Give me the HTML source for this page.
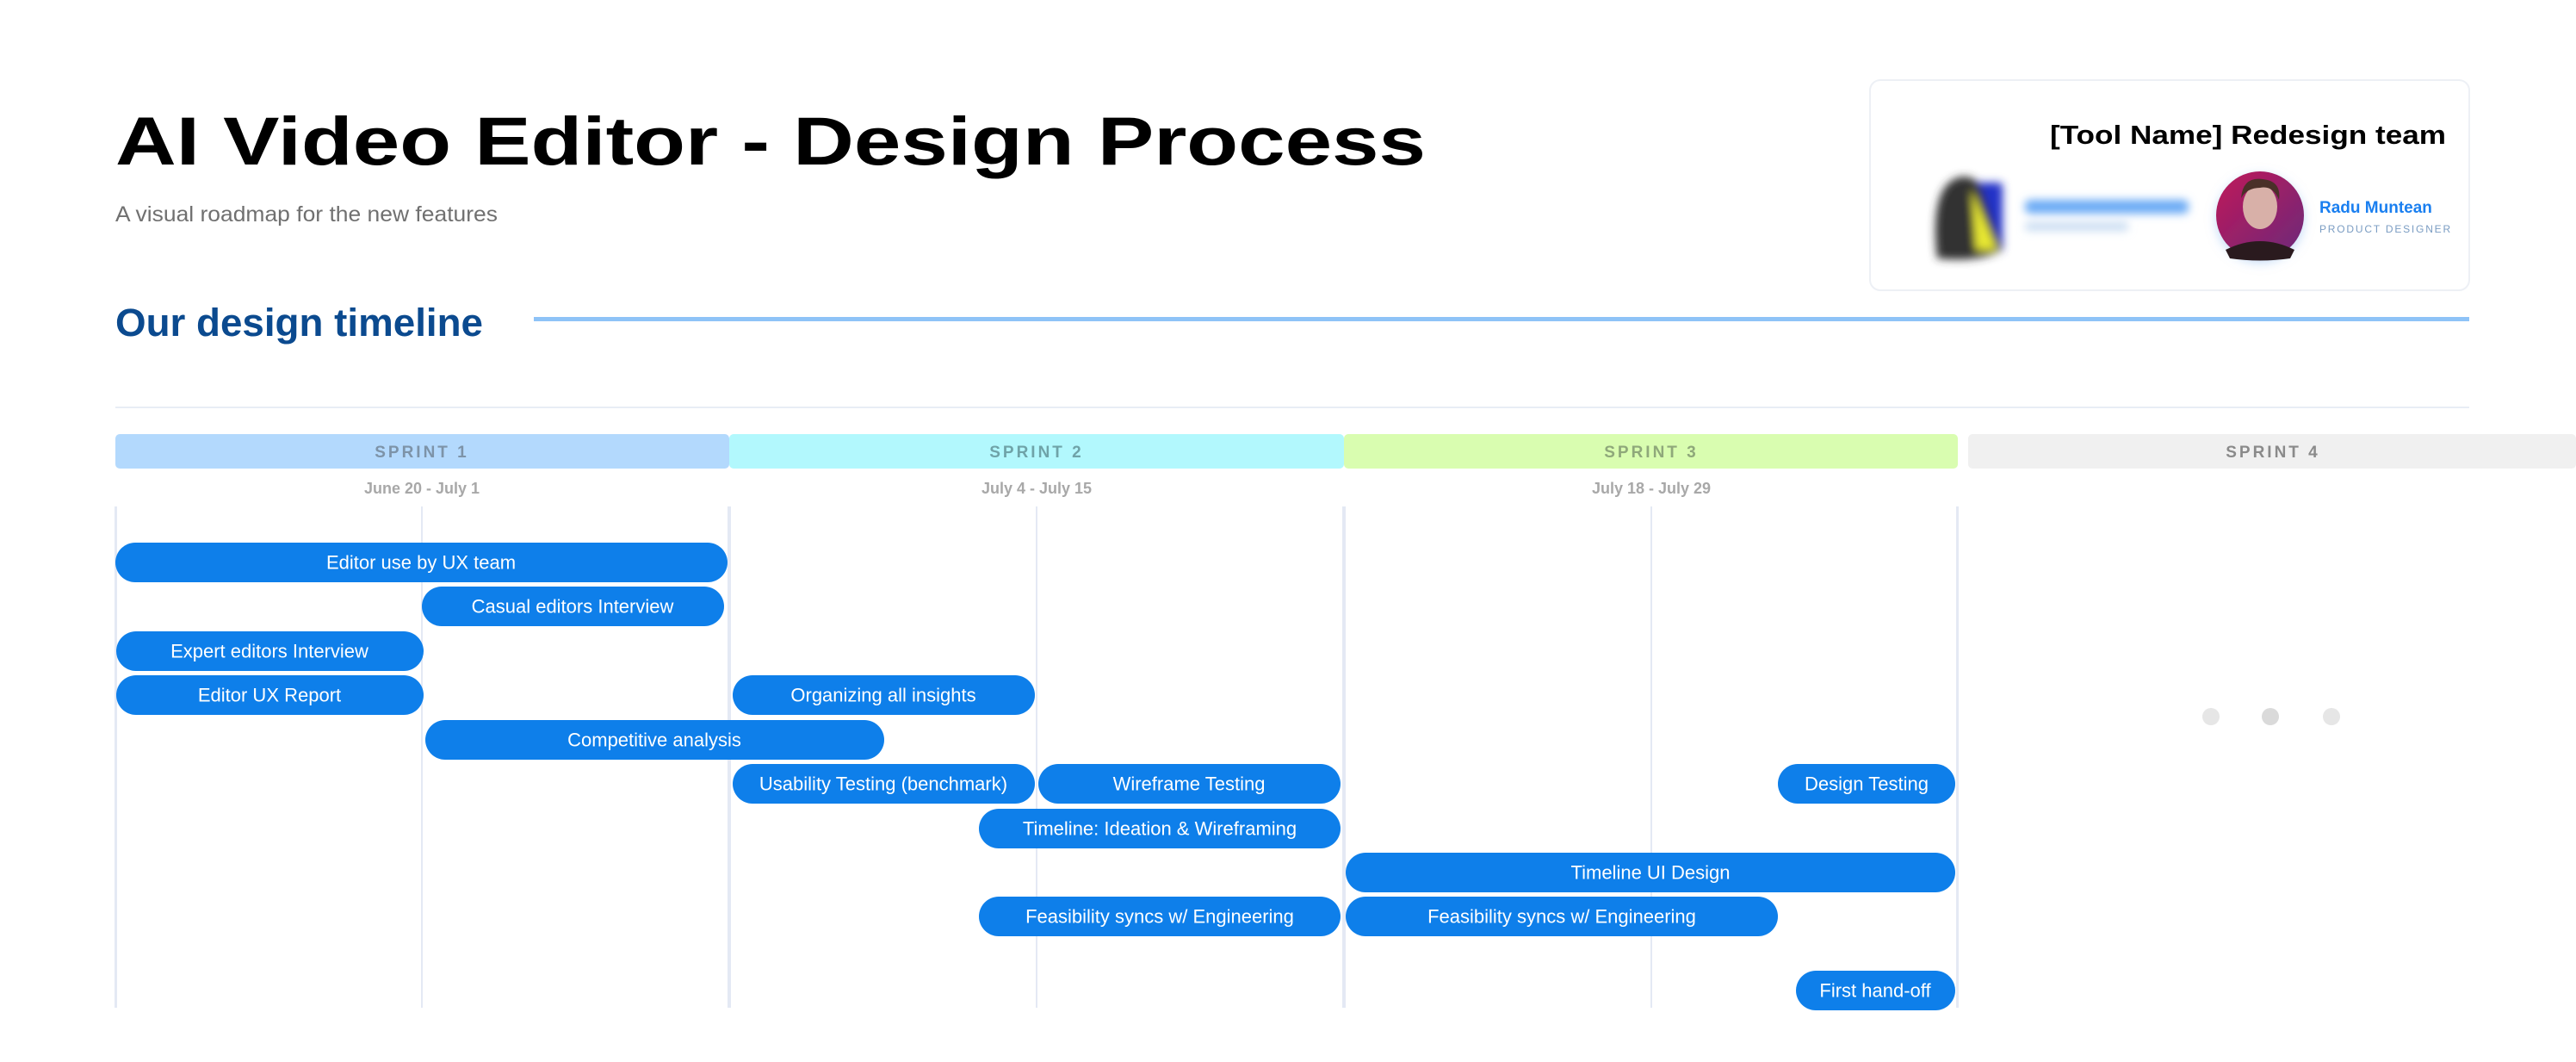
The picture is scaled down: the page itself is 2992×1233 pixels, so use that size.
<!DOCTYPE html>
<html><head><meta charset="utf-8"><style>
html,body{margin:0;padding:0;background:#fff;width:2992px;height:1233px;overflow:hidden}
svg{display:block}
text{font-family:"Liberation Sans",sans-serif}
.bt{fill:#fff;font-size:22px;text-anchor:middle;dominant-baseline:central}
</style></head><body>
<svg width="2992" height="1233" viewBox="0 0 2992 1233" xmlns="http://www.w3.org/2000/svg">
<defs><filter id="bl" x="-20%" y="-20%" width="140%" height="140%"><feGaussianBlur stdDeviation="5"/></filter>
<filter id="sh" x="-30%" y="-30%" width="160%" height="160%"><feDropShadow dx="0" dy="4" stdDeviation="6" flood-color="#8ab8f0" flood-opacity="0.5"/></filter>
<linearGradient id="av" x1="0" y1="0" x2="1" y2="1"><stop offset="0" stop-color="#c0185a"/><stop offset="1" stop-color="#6a2a7a"/></linearGradient></defs>

<text x="134" y="191" font-size="79" font-weight="bold" fill="#000" textLength="1522" lengthAdjust="spacingAndGlyphs">AI Video Editor - Design Process</text>
<text x="134" y="257" font-size="25" fill="#707070" textLength="444" lengthAdjust="spacingAndGlyphs">A visual roadmap for the new features</text>
<text x="134" y="390" font-size="45" font-weight="bold" fill="#0b4a8f" textLength="427" lengthAdjust="spacingAndGlyphs">Our design timeline</text>
<rect x="620" y="368" width="2248" height="5" fill="#8ec3f7"/>
<rect x="134" y="472" width="2734" height="2" fill="#e8edf5"/>

<!-- team card -->
<rect x="2172" y="93" width="696" height="244" rx="12" fill="#fff" stroke="#edf0f5" stroke-width="2"/>
<text x="2841" y="167" font-size="31" font-weight="bold" fill="#000" text-anchor="end" textLength="460" lengthAdjust="spacingAndGlyphs">[Tool Name] Redesign team</text>
<g filter="url(#bl)">
<rect x="2290" y="212" width="36" height="80" rx="4" fill="#2230c8"/>
<path d="M2250 300 Q2240 210 2280 205 Q2300 205 2305 230 L2325 290 Q2300 305 2250 300Z" fill="#333"/>
<path d="M2290 220 L2320 290 L2295 290Z" fill="#e8e832"/>
<rect x="2352" y="232" width="190" height="16" rx="6" fill="#6aaaf5"/>
<rect x="2352" y="258" width="120" height="10" rx="4" fill="#c8dcf2"/>
</g>
<circle cx="2625" cy="250" r="51" fill="url(#av)" filter="url(#sh)"/>
<path d="M2585 290 Q2625 270 2665 290 L2660 300 Q2625 305 2590 300Z" fill="#2a1a1e"/>
<ellipse cx="2625" cy="240" rx="20" ry="26" fill="#d8b0a8"/>
<path d="M2603 230 Q2605 205 2628 208 Q2650 210 2647 232 Q2640 215 2625 218 Q2610 218 2603 230Z" fill="#4a3028"/>
<text x="2694" y="247" font-size="19" font-weight="bold" fill="#1a7ff0">Radu Muntean</text>
<text x="2694" y="270" font-size="12" fill="#7a9cc2" letter-spacing="1.8">PRODUCT DESIGNER</text>

<!-- sprint headers -->
<rect x="134" y="504" width="713" height="40" rx="5" fill="#b3d9fd"/>
<rect x="847" y="504" width="714" height="40" rx="5" fill="#b2f8fd"/>
<rect x="1561" y="504" width="713" height="40" rx="5" fill="#d9fdb0"/>
<rect x="2286" y="504" width="706" height="40" rx="5" fill="#f0f0f0"/>
<g font-size="19" font-weight="bold" text-anchor="middle" letter-spacing="3">
<text x="490" y="531" fill="#7d93a8">SPRINT 1</text>
<text x="1204" y="531" fill="#6fa3a8">SPRINT 2</text>
<text x="1918" y="531" fill="#8fa87a">SPRINT 3</text>
<text x="2640" y="531" fill="#8a8a8a">SPRINT 4</text>
</g>
<g font-size="18" fill="#a8a8a8" text-anchor="middle" font-weight="bold">
<text x="490" y="573">June 20 - July 1</text>
<text x="1204" y="573">July 4 - July 15</text>
<text x="1918" y="573">July 18 - July 29</text>
</g>

<!-- grid lines -->
<g fill="#e4e9f4">
<rect x="133" y="588" width="3" height="582"/>
<rect x="489" y="588" width="2" height="582"/>
<rect x="845" y="588" width="4" height="582"/>
<rect x="1203" y="588" width="2" height="582"/>
<rect x="1559" y="588" width="4" height="582"/>
<rect x="1917" y="588" width="2" height="582"/>
<rect x="2272" y="588" width="3" height="582"/>
</g>

<circle cx="2568" cy="832" r="10" fill="#e6e6e6"/>
<circle cx="2637" cy="832" r="10" fill="#dadada"/>
<circle cx="2708" cy="832" r="10" fill="#e6e6e6"/>

<!-- bars -->
<g fill="#0e7fea">
<rect x="134" y="630" width="711" height="46" rx="23"/>
<rect x="490" y="681" width="351" height="46" rx="23"/>
<rect x="135" y="733" width="357" height="46" rx="23"/>
<rect x="135" y="784" width="357" height="46" rx="23"/>
<rect x="851" y="784" width="351" height="46" rx="23"/>
<rect x="494" y="836" width="533" height="46" rx="23"/>
<rect x="851" y="887" width="351" height="46" rx="23"/>
<rect x="1206" y="887" width="351" height="46" rx="23"/>
<rect x="2065" y="887" width="206" height="46" rx="23"/>
<rect x="1137" y="939" width="420" height="46" rx="23"/>
<rect x="1563" y="990" width="708" height="46" rx="23"/>
<rect x="1137" y="1041" width="420" height="46" rx="23"/>
<rect x="1563" y="1041" width="502" height="46" rx="23"/>
<rect x="2086" y="1127" width="185" height="46" rx="23"/>
</g>
<g class="bt">
<text class="bt" x="489" y="653">Editor use by UX team</text>
<text class="bt" x="665" y="704">Casual editors Interview</text>
<text class="bt" x="313" y="756">Expert editors Interview</text>
<text class="bt" x="313" y="807">Editor UX Report</text>
<text class="bt" x="1026" y="807">Organizing all insights</text>
<text class="bt" x="760" y="859">Competitive analysis</text>
<text class="bt" x="1026" y="910">Usability Testing (benchmark)</text>
<text class="bt" x="1381" y="910">Wireframe Testing</text>
<text class="bt" x="2168" y="910">Design Testing</text>
<text class="bt" x="1347" y="962">Timeline: Ideation &amp; Wireframing</text>
<text class="bt" x="1917" y="1013">Timeline UI Design</text>
<text class="bt" x="1347" y="1064">Feasibility syncs w/ Engineering</text>
<text class="bt" x="1814" y="1064">Feasibility syncs w/ Engineering</text>
<text class="bt" x="2178" y="1150">First hand-off</text>
</g>
</svg>
</body></html>
